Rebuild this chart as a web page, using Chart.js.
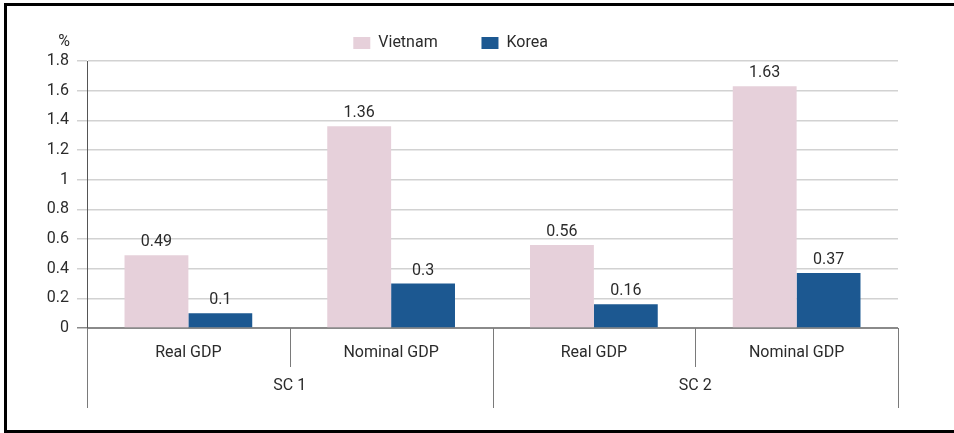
<!DOCTYPE html>
<html lang="en">
<head>
  <meta charset="UTF-8" />
  <title>Vietnam vs Korea GDP effect</title>
  <script src="https://cdn.jsdelivr.net/npm/chart.js"></script>
  <style>
    html, body {
      margin: 0;
      padding: 0;
      background: #fff;
      overflow: hidden;
    }
    #wrap {
      position: relative;
      width: 954px;
      height: 433px;
    }
    /* frame round the figure (right edge is cut off in the source) */
    #frame {
      position: absolute;
      left: 4px;
      top: 3px;
      width: 990px;
      height: 430px;
      box-sizing: border-box;
      border: 3px solid #000;
      pointer-events: none;
    }
  </style>
</head>
<body>
  <div id="wrap">
    <canvas id="chart" width="954" height="433"></canvas>
    <div id="frame"></div>
  </div>

  <script>
    // ==== DATA ====
    const categories = ['Real GDP', 'Nominal GDP', 'Real GDP', 'Nominal GDP'];
    const groups = ['SC 1', 'SC 2'];
    const vietnam = [0.49, 1.36, 0.56, 1.63];
    const korea = [0.1, 0.3, 0.16, 0.37];
    const yMin = 0, yMax = 1.8, yStep = 0.2;
    const yUnit = '%';

    const FONT = 'Roboto, "DejaVu Sans", sans-serif';
    const TEXT = '#2b2b2b';

    // value labels above each bar
    const barValues = {
      id: 'barValues',
      afterDatasetsDraw(chart) {
        const ctx = chart.ctx;
        ctx.save();
        ctx.font = '16px ' + FONT;
        ctx.fillStyle = TEXT;
        ctx.textAlign = 'center';
        ctx.textBaseline = 'middle';
        chart.data.datasets.forEach((ds, di) => {
          chart.getDatasetMeta(di).data.forEach((bar, i) => {
            ctx.fillText(String(ds.data[i]), bar.x, bar.y - 13);
          });
        });
        ctx.restore();
      }
    };

    // category separators + unit label
    const axisExtras = {
      id: 'axisExtras',
      afterDraw(chart) {
        const ctx = chart.ctx;
        const x = chart.scales.x;
        const y = chart.scales.y;
        const bottom = chart.chartArea.bottom;
        const n = categories.length;
        const half = (x.getPixelForTick(1) - x.getPixelForTick(0)) / 2;

        ctx.save();
        ctx.strokeStyle = '#7a7a7a';
        ctx.lineWidth = 1;
        for (let i = 0; i <= n; i++) {
          const px = i < n ? x.getPixelForTick(i) - half : x.getPixelForTick(n - 1) + half;
          const outer = (i % 2 === 0);
          ctx.beginPath();
          ctx.moveTo(Math.round(px) + 0.5, bottom);
          ctx.lineTo(Math.round(px) + 0.5, bottom + (outer ? 80 : 39));
          ctx.stroke();
        }

        ctx.font = '16px ' + FONT;
        ctx.fillStyle = TEXT;
        ctx.textAlign = 'right';
        ctx.textBaseline = 'middle';
        ctx.fillText(yUnit, y.right - 17, chart.chartArea.top - 19);
        ctx.restore();
      }
    };

    new Chart(document.getElementById('chart'), {
      type: 'bar',
      data: {
        labels: categories,
        datasets: [
          {
            label: 'Vietnam',
            data: vietnam,
            backgroundColor: '#e6d0da',
            categoryPercentage: 0.63,
            barPercentage: 1.0
          },
          {
            label: 'Korea',
            data: korea,
            backgroundColor: '#1c5891',
            categoryPercentage: 0.63,
            barPercentage: 1.0
          }
        ]
      },
      options: {
        responsive: false,
        animation: false,
        layout: {
          padding: { left: 27, right: 56, top: 15, bottom: 30 }
        },
        plugins: {
          legend: {
            position: 'top',
            align: 'center',
            labels: {
              boxWidth: 17,
              boxHeight: 12,
              padding: 20,
              color: TEXT,
              font: { family: FONT, size: 16 },
              generateLabels(chart) {
                const items = Chart.defaults.plugins.legend.labels.generateLabels(chart);
                // pad legend text so items sit apart like the source
                items.forEach((it) => { it.text = it.text + '      '; });
                return items;
              }
            }
          },
          tooltip: { enabled: false }
        },
        scales: {
          x: {
            position: 'bottom',
            offset: true,
            grid: { display: false },
            border: { display: true, color: '#8a8a8a' },
            ticks: {
              color: TEXT,
              padding: 7,
              maxRotation: 0,
              font: { family: FONT, size: 16 }
            },
            afterFit(s) { s.height = 40; }
          },
          x2: {
            type: 'category',
            labels: groups,
            position: 'bottom',
            offset: true,
            grid: { display: false },
            border: { display: false },
            ticks: {
              color: TEXT,
              padding: 0,
              maxRotation: 0,
              font: { family: FONT, size: 16 }
            },
            afterFit(s) { s.height = 35; }
          },
          y: {
            min: yMin,
            max: yMax,
            ticks: {
              stepSize: yStep,
              color: TEXT,
              padding: 8,
              font: { family: FONT, size: 16 },
              callback: (v) => String(+v.toFixed(2))
            },
            grid: {
              color: (c) => c.tick && c.tick.value === 0 ? '#8a8a8a' : '#d2d2d2',
              tickLength: 10,
              lineWidth: 1.5
            },
            border: { display: true, color: '#555', width: 1 },
            afterFit(s) { s.width = 60; }
          }
        }
      },
      plugins: [barValues, axisExtras]
    });
  </script>
</body>
</html>
